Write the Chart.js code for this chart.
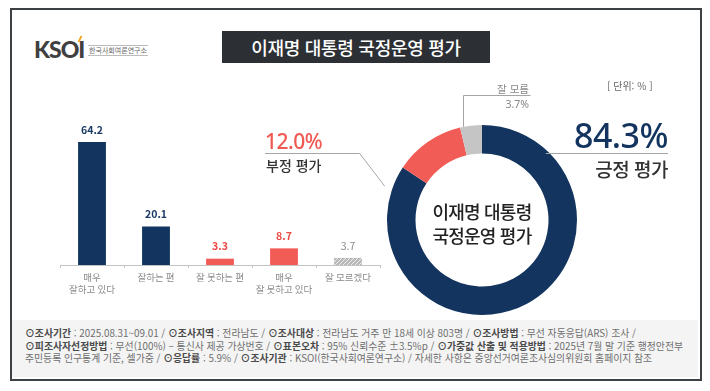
<!DOCTYPE html>
<html lang="ko">
<head>
<meta charset="utf-8">
<script src="https://cdn.jsdelivr.net/npm/chart.js@4.4.1/dist/chart.umd.min.js"></script>
<style>
  html,body{margin:0;padding:0;background:#fff;}
  body{width:710px;height:391px;position:relative;overflow:hidden;font-family:'Noto Sans CJK KR','Noto Sans',sans-serif;}
  .abs{position:absolute;white-space:nowrap;}
  #frame{position:absolute;left:10px;top:8px;width:688px;height:369px;border:2px solid #3c4146;background:#fff;}
  #footer{position:absolute;left:12px;top:320px;width:686px;height:57px;background:#f4f4f4;}
  #title{left:222px;top:31px;width:268px;height:32px;background:#2c3035;color:#fff;font-size:18px;font-weight:500;line-height:32px;text-align:center;letter-spacing:-0.3px;}
  #logo{left:34px;top:36px;font-family:'Lato','Noto Sans',sans-serif;font-weight:900;font-size:23px;color:#404040;letter-spacing:-1px;line-height:26px;}
  #logoAcc{left:79px;top:36px;width:2px;height:6px;background:#f0a31c;transform:skewX(-25deg);}
  #logoSub{left:88px;top:45px;font-size:7px;color:#666;border-top:1px solid #bbb;border-bottom:1px solid #bbb;line-height:9px;padding:0 1px;}
  #barCanvas{position:absolute;left:40px;top:100px;}
  #pieCanvas{position:absolute;left:250px;top:70px;}
  #unit{left:607px;top:78px;font-size:10px;color:#666;}
  #posVal{right:42px;top:116px;font-family:'Noto Sans',sans-serif;font-size:34px;font-weight:500;color:#12345e;letter-spacing:-0.5px;line-height:38px;}
  #posLab{right:42px;top:158px;font-size:19px;font-weight:500;color:#333;line-height:22px;letter-spacing:-0.5px;}
  #negVal{left:265px;top:129px;font-family:'Noto Sans',sans-serif;font-size:21px;font-weight:500;color:#f05852;line-height:24px;letter-spacing:-0.5px;}
  #negLab{left:266px;top:157px;font-size:14px;font-weight:500;color:#333;line-height:16px;}
  #dkLab{right:181px;top:83px;font-size:10.5px;color:#888;line-height:12px;}
  #dkVal{right:181px;top:98px;font-size:10.5px;color:#888;line-height:12px;font-family:'Noto Sans',sans-serif;}
  #center1,#center2{left:382px;width:200px;text-align:center;font-size:18px;font-weight:500;color:#222;letter-spacing:-0.8px;line-height:22px;}
  #center1{top:200px;}
  #center2{top:224px;}
  .fl{left:25px;color:#6e6e6e;font-size:9.5px;line-height:12px;}
  .fl b{color:#4a4a4a;font-weight:700;}
  #fl1{top:327px;}
  #fl2{top:340px;}
  #fl3{top:352px;}
</style>
</head>
<body>
<div id="frame"></div>
<div id="footer"></div>
<div class="abs" id="title">이재명 대통령 국정운영 평가</div>
<div class="abs" id="logo">KSOI</div>
<div class="abs" id="logoAcc"></div>
<div class="abs" id="logoSub">한국사회여론연구소</div>
<canvas id="barCanvas" width="360" height="215"></canvas>
<canvas id="pieCanvas" width="450" height="250"></canvas>
<div class="abs" id="unit">[ 단위: % ]</div>
<div class="abs" id="posVal"></div>
<div class="abs" id="posLab"></div>
<div class="abs" id="negVal"></div>
<div class="abs" id="negLab"></div>
<div class="abs" id="dkLab"></div>
<div class="abs" id="dkVal"></div>
<div class="abs" id="center1">이재명 대통령</div>
<div class="abs" id="center2">국정운영 평가</div>
<div class="abs fl" id="fl1"><b>⊙조사기간</b> : 2025.08.31~09.01 / <b>⊙조사지역</b> : 전라남도 / <b>⊙조사대상</b> : 전라남도 거주 만 18세 이상 803명 / <b>⊙조사방법</b> : 무선 자동응답(ARS) 조사 /</div>
<div class="abs fl" id="fl2"><b>⊙피조사자선정방법</b> : 무선(100%) – 통신사 제공 가상번호 / <b>⊙표본오차</b> : 95% 신뢰수준 ±3.5%p / <b>⊙가중값 산출 및 적용방법</b> : 2025년 7월 말 기준 행정안전부</div>
<div class="abs fl" id="fl3">주민등록 인구통계 기준, 셀가중 / <b>⊙응답률</b> : 5.9% / <b>⊙조사기관</b> : KSOI(한국사회여론연구소) / 자세한 사항은 중앙선거여론조사심의위원회 홈페이지 참조</div>

<script>
// ---- data ----
const categories = [['매우', '잘하고 있다'], '잘하는 편', '잘 못하는 편', ['매우', '잘 못하고 있다'], '잘 모르겠다'];
const barValues = [64.2, 20.1, 3.3, 8.7, 3.7];
const summaryLabels = ['긍정 평가', '부정 평가', '잘 모름'];
const summaryValues = [84.3, 12.0, 3.7];
const yMax = 70;

// ---- styling ----
const NAVY = '#12345e', RED = '#f25c56', GREY = '#c5c5c5';
const FONT = "'Noto Sans CJK KR','Noto Sans',sans-serif";
Chart.defaults.font.family = FONT;
Chart.defaults.animation = false;

// fit footer font
(function(){
  const el = document.getElementById('fl2');
  let fs = 9.5;
  for (let i = 0; i < 6; i++) {
    el.style.fontSize = fs + 'px';
    const w = el.getBoundingClientRect().width;
    fs = fs * 658 / w;
  }
  document.querySelectorAll('.fl').forEach(e => e.style.fontSize = fs + 'px');
})();

// hatch pattern for "don't know" bar
function hatch(){
  const c = document.createElement('canvas');
  c.width = 4; c.height = 4;
  const g = c.getContext('2d');
  g.fillStyle = '#b9b9b9'; g.fillRect(0,0,4,4);
  g.strokeStyle = '#ececec'; g.lineWidth = 1;
  g.beginPath(); g.moveTo(0,4); g.lineTo(4,0); g.stroke();
  g.beginPath(); g.moveTo(-1,1); g.lineTo(1,-1); g.stroke();
  g.beginPath(); g.moveTo(3,5); g.lineTo(5,3); g.stroke();
  return document.getElementById('barCanvas').getContext('2d').createPattern(c, 'repeat');
}
const barColors = [NAVY, NAVY, RED, RED, hatch()];
const labelColors = ['#1b3a64', '#1b3a64', '#ee4a44', '#ee4a44', '#8a8a8a'];

const barValuePlugin = {
  id: 'barValues',
  afterDatasetsDraw(chart) {
    const ctx = chart.ctx;
    const meta = chart.getDatasetMeta(0);
    ctx.save();
    ctx.textAlign = 'center';
    ctx.textBaseline = 'bottom';
    meta.data.forEach((bar, i) => {
      ctx.fillStyle = labelColors[i];
      ctx.font = (i === 4 ? '400 ' : '700 ') + '10.5px ' + FONT;
      ctx.fillText(barValues[i].toFixed(1), bar.x, bar.y - 7);
    });
    ctx.restore();
  }
};

new Chart(document.getElementById('barCanvas'), {
  type: 'bar',
  data: {
    labels: categories,
    datasets: [{ data: barValues, backgroundColor: barColors, barPercentage: 0.87, categoryPercentage: 0.5 }]
  },
  options: {
    responsive: false,
    layout: { padding: { left: 20, right: 20, top: 31, bottom: 0 } },
    plugins: { legend: { display: false }, tooltip: { enabled: false } },
    scales: {
      y: { display: false, min: 0, max: yMax },
      x: {
        afterFit(scale) { scale.height = 50; },
        border: { color: '#c4c4c4', width: 1 },
        grid: { display: true, drawOnChartArea: false, drawTicks: true, tickLength: 3, color: '#c4c4c4', offset: true },
        ticks: { color: '#8a8a8a', font: { size: 9.5 }, padding: 4, maxRotation: 0, autoSkip: false }
      }
    }
  },
  plugins: [barValuePlugin]
});

// ---- doughnut ----
document.getElementById('posVal').textContent = summaryValues[0].toFixed(1) + '%';
document.getElementById('posLab').textContent = summaryLabels[0];
document.getElementById('negVal').textContent = summaryValues[1].toFixed(1) + '%';
document.getElementById('negLab').textContent = summaryLabels[1];
document.getElementById('dkLab').textContent = summaryLabels[2];
document.getElementById('dkVal').textContent = summaryValues[2].toFixed(1) + '%';

const leaderPlugin = {
  id: 'leaders',
  afterDatasetsDraw(chart) {
    const ctx = chart.ctx;
    const arcs = chart.getDatasetMeta(0).data;
    const a0 = arcs[0];
    const cx = a0.x, cy = a0.y, r = a0.outerRadius;
    ctx.save();
    ctx.strokeStyle = '#a5a5a5';
    ctx.lineWidth = 1;
    // positive
    const yP = Math.round(cy - 0.705 * r) + 0.5;
    const xP = cx + Math.sqrt(r * r - (cy - yP) * (cy - yP)) - 4;
    ctx.beginPath(); ctx.moveTo(xP, yP); ctx.lineTo(cx + r + 91, yP); ctx.stroke();
    // negative
    const aN = arcs[1].startAngle - 0.25;
    const ex = cx + (r + 8) * Math.cos(aN), ey = cy + (r + 8) * Math.sin(aN);
    ctx.beginPath();
    ctx.moveTo(15, yP); ctx.lineTo(ex - 25, yP); ctx.lineTo(ex, ey); ctx.stroke();
    // don't know
    const g = arcs[2];
    const aG = g.startAngle + 0.15 * (g.endAngle - g.startAngle);
    const gx = Math.round(cx + r * Math.cos(aG)) + 0.5, gy = cy + r * Math.sin(aG);
    const yG = Math.round(cy - r - 30) + 0.5;
    ctx.beginPath(); ctx.moveTo(gx, gy); ctx.lineTo(gx, yG); ctx.lineTo(gx + 67, yG); ctx.stroke();
    ctx.restore();
  }
};

new Chart(document.getElementById('pieCanvas'), {
  type: 'doughnut',
  data: {
    labels: summaryLabels,
    datasets: [{ data: summaryValues, backgroundColor: [NAVY, RED, GREY], borderWidth: 0 }]
  },
  options: {
    responsive: false,
    cutout: '70%',
    layout: { padding: { left: 137, right: 123, top: 55, bottom: 5 } },
    plugins: { legend: { display: false }, tooltip: { enabled: false } }
  },
  plugins: [leaderPlugin]
});
</script>
</body>
</html>
